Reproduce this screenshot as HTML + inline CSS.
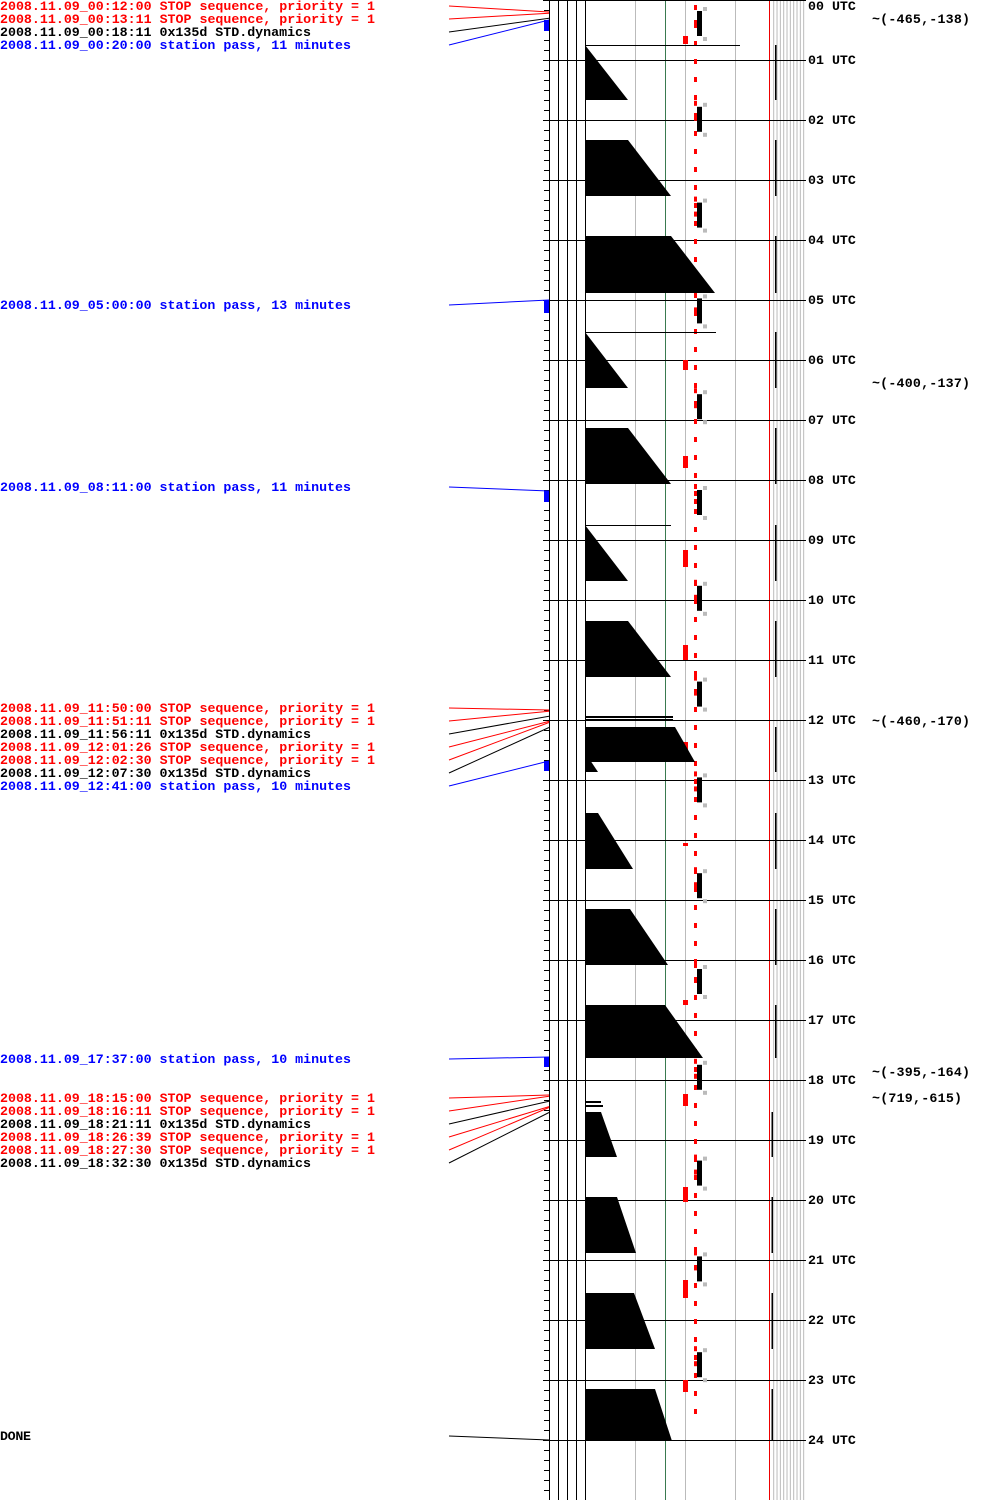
<!DOCTYPE html>
<html><head><meta charset="utf-8"><style>
html,body{margin:0;padding:0;background:#fff;}
svg{display:block}
text{font-family:"Liberation Mono","DejaVu Sans Mono",monospace;font-size:13.3px;font-weight:bold;}
</style></head><body>
<svg id="s" width="1000" height="1500" xmlns="http://www.w3.org/2000/svg">
<rect width="1000" height="1500" fill="#fff"/>
<g id="grid"></g>
<g id="shapes" fill="#000"></g>
<g transform="translate(0,-1)">
<text x="0" y="11" fill="#f00" textLength="375">2008.11.09_00:12:00 STOP sequence, priority = 1</text>
<text x="0" y="24" fill="#f00" textLength="375">2008.11.09_00:13:11 STOP sequence, priority = 1</text>
<text x="0" y="37" fill="#000" textLength="311">2008.11.09_00:18:11 0x135d STD.dynamics</text>
<text x="0" y="50" fill="#00f" textLength="351">2008.11.09_00:20:00 station pass, 11 minutes</text>
<text x="0" y="310" fill="#00f" textLength="351">2008.11.09_05:00:00 station pass, 13 minutes</text>
<text x="0" y="492" fill="#00f" textLength="351">2008.11.09_08:11:00 station pass, 11 minutes</text>
<text x="0" y="713" fill="#f00" textLength="375">2008.11.09_11:50:00 STOP sequence, priority = 1</text>
<text x="0" y="726" fill="#f00" textLength="375">2008.11.09_11:51:11 STOP sequence, priority = 1</text>
<text x="0" y="739" fill="#000" textLength="311">2008.11.09_11:56:11 0x135d STD.dynamics</text>
<text x="0" y="752" fill="#f00" textLength="375">2008.11.09_12:01:26 STOP sequence, priority = 1</text>
<text x="0" y="765" fill="#f00" textLength="375">2008.11.09_12:02:30 STOP sequence, priority = 1</text>
<text x="0" y="778" fill="#000" textLength="311">2008.11.09_12:07:30 0x135d STD.dynamics</text>
<text x="0" y="791" fill="#00f" textLength="351">2008.11.09_12:41:00 station pass, 10 minutes</text>
<text x="0" y="1064" fill="#00f" textLength="351">2008.11.09_17:37:00 station pass, 10 minutes</text>
<text x="0" y="1103" fill="#f00" textLength="375">2008.11.09_18:15:00 STOP sequence, priority = 1</text>
<text x="0" y="1116" fill="#f00" textLength="375">2008.11.09_18:16:11 STOP sequence, priority = 1</text>
<text x="0" y="1129" fill="#000" textLength="311">2008.11.09_18:21:11 0x135d STD.dynamics</text>
<text x="0" y="1142" fill="#f00" textLength="375">2008.11.09_18:26:39 STOP sequence, priority = 1</text>
<text x="0" y="1155" fill="#f00" textLength="375">2008.11.09_18:27:30 STOP sequence, priority = 1</text>
<text x="0" y="1168" fill="#000" textLength="311">2008.11.09_18:32:30 0x135d STD.dynamics</text>
<text x="0" y="1441" fill="#000" textLength="31">DONE</text>
<text x="872" y="24" textLength="98">~(-465,-138)</text>
<text x="872" y="388" textLength="98">~(-400,-137)</text>
<text x="872" y="726" textLength="98">~(-460,-170)</text>
<text x="872" y="1077" textLength="98">~(-395,-164)</text>
<text x="872" y="1103" textLength="90">~(719,-615)</text>
</g>
<g id="utc" transform="translate(0,-1)">
<text x="808" y="11">00 UTC</text><text x="808" y="65">01 UTC</text><text x="808" y="125">02 UTC</text>
<text x="808" y="185">03 UTC</text><text x="808" y="245">04 UTC</text><text x="808" y="305">05 UTC</text>
<text x="808" y="365">06 UTC</text><text x="808" y="425">07 UTC</text><text x="808" y="485">08 UTC</text>
<text x="808" y="545">09 UTC</text><text x="808" y="605">10 UTC</text><text x="808" y="665">11 UTC</text>
<text x="808" y="725">12 UTC</text><text x="808" y="785">13 UTC</text><text x="808" y="845">14 UTC</text>
<text x="808" y="905">15 UTC</text><text x="808" y="965">16 UTC</text><text x="808" y="1025">17 UTC</text>
<text x="808" y="1085">18 UTC</text><text x="808" y="1145">19 UTC</text><text x="808" y="1205">20 UTC</text>
<text x="808" y="1265">21 UTC</text><text x="808" y="1325">22 UTC</text><text x="808" y="1385">23 UTC</text>
<text x="808" y="1445">24 UTC</text>
</g>
</svg>
<script>
var NS="http://www.w3.org/2000/svg";
var g=document.getElementById('grid'),sh=document.getElementById('shapes');
function el(p,t,a){var e=document.createElementNS(NS,t);for(var k in a)e.setAttribute(k,a[k]);p.appendChild(e);return e;}
function ln(x1,y1,x2,y2,c,w,p){el(p||g,'line',{x1:x1,y1:y1,x2:x2,y2:y2,stroke:c,'stroke-width':w||1});}
function rc(x,y,w,h,c,p){el(p||g,'rect',{x:x,y:y,width:w,height:h,fill:c});}
[635,685,735].forEach(function(x){ln(x+.5,0,x+.5,1500,'#bbb');});
ln(665.5,0,665.5,1500,'#3a7a50');
for(var i=0;i<10;i++){var x=773.7+i*3.33;ln(x,0,x,1500,'#bbb');}
ln(769.5,0,769.5,1500,'#e00');
[549,558,567,576,585].forEach(function(x){ln(x+.5,0,x+.5,1500,'#000');});
for(var y=0;y<=1500;y+=10)ln(544,y+.5,549,y+.5,'#000');
for(var h=0;h<=24;h++){var y=h*60+.5;ln(543,y,806,y,'#000');}
el(g,'line',{x1:695.5,y1:5,x2:695.5,y2:1420,stroke:'#f00','stroke-width':3,'stroke-dasharray':'5,13'});
for(var k=0;k<15;k++){var b=11+k*95.8;rc(697,b,5,25,'#000');rc(703,b-4,4,4,'#bbb');rc(703,b+26,4,4,'#bbb');rc(694,b-6,3,5,'#f00');rc(694,b+9,3,5,'#f00');}
[[36,8],[360,10],[456,12],[550,17],[645,15],[742,13],[843,3],[1000,5],[1094,12],[1187,15],[1280,18],[1380,12]].forEach(function(a){rc(683,a[0],5,a[1],'#f00');});
var polys=[
"585,45 585,100 628,100",
"585,140 628,140 671,196 585,196",
"585,236 671,236 715,293 585,293",
"585,332 585,388 628,388",
"585,428 628,428 671,484 585,484",
"585,525 585,581 628,581",
"585,621 628,621 671,677 585,677",
"585,727 675,727 695,762 585,762",
"585,760 590,760 598,772 585,772",
"585,813 598,813 633,869 585,869",
"585,909 630,909 668,965 585,965",
"585,1005 665,1005 703,1058 585,1058",
"585,1112 601,1112 617,1157 585,1157",
"585,1197 617,1197 636,1253 585,1253",
"585,1293 634,1293 655,1349 585,1349",
"585,1389 655,1389 672,1441 585,1441"];
polys.forEach(function(p){el(sh,'polygon',{points:p});});
ln(585,45.5,740,45.5,'#000',1,sh);ln(585,332.5,716,332.5,'#000',1,sh);ln(585,525.5,671,525.5,'#000',1,sh);
rc(585,716,88,2,'#000',sh);rc(585,719,88,2,'#000',sh);
rc(585,1101,16,2,'#000',sh);rc(585,1105,18,2,'#000',sh);
[[45,100],[140,196],[236,293],[332,388],[428,484],[525,581],[621,677],[727,772],[813,869],[909,965],[1005,1058]].forEach(function(a){rc(775,a[0],1.5,a[1]-a[0],'#000');});
[[1112,1157],[1197,1253],[1293,1349],[1389,1441]].forEach(function(a){rc(771.5,a[0],1.5,a[1]-a[0],'#000');});
var L=[[6,12,'#f00'],[19,13.2,'#f00'],[32,18.2,'#000'],[45,20,'#00f'],[305,300,'#00f'],[487,491,'#00f'],
[708,710,'#f00'],[721,711.2,'#f00'],[734,716.2,'#000'],[747,721.4,'#f00'],[760,722.5,'#f00'],[773,727.5,'#000'],[786,761,'#00f'],
[1059,1057,'#00f'],[1098,1095,'#f00'],[1111,1096.2,'#f00'],[1124,1101.2,'#000'],[1137,1106.6,'#f00'],[1150,1107.5,'#f00'],[1163,1112.5,'#000'],[1436,1440,'#000']];
L.forEach(function(a){ln(449,a[0],549,a[1],a[2]);});
[[20,11],[300,13],[491,11],[761,10],[1057,10]].forEach(function(a){rc(544,a[0],5,a[1],'#00f');});
</script>
</body></html>
